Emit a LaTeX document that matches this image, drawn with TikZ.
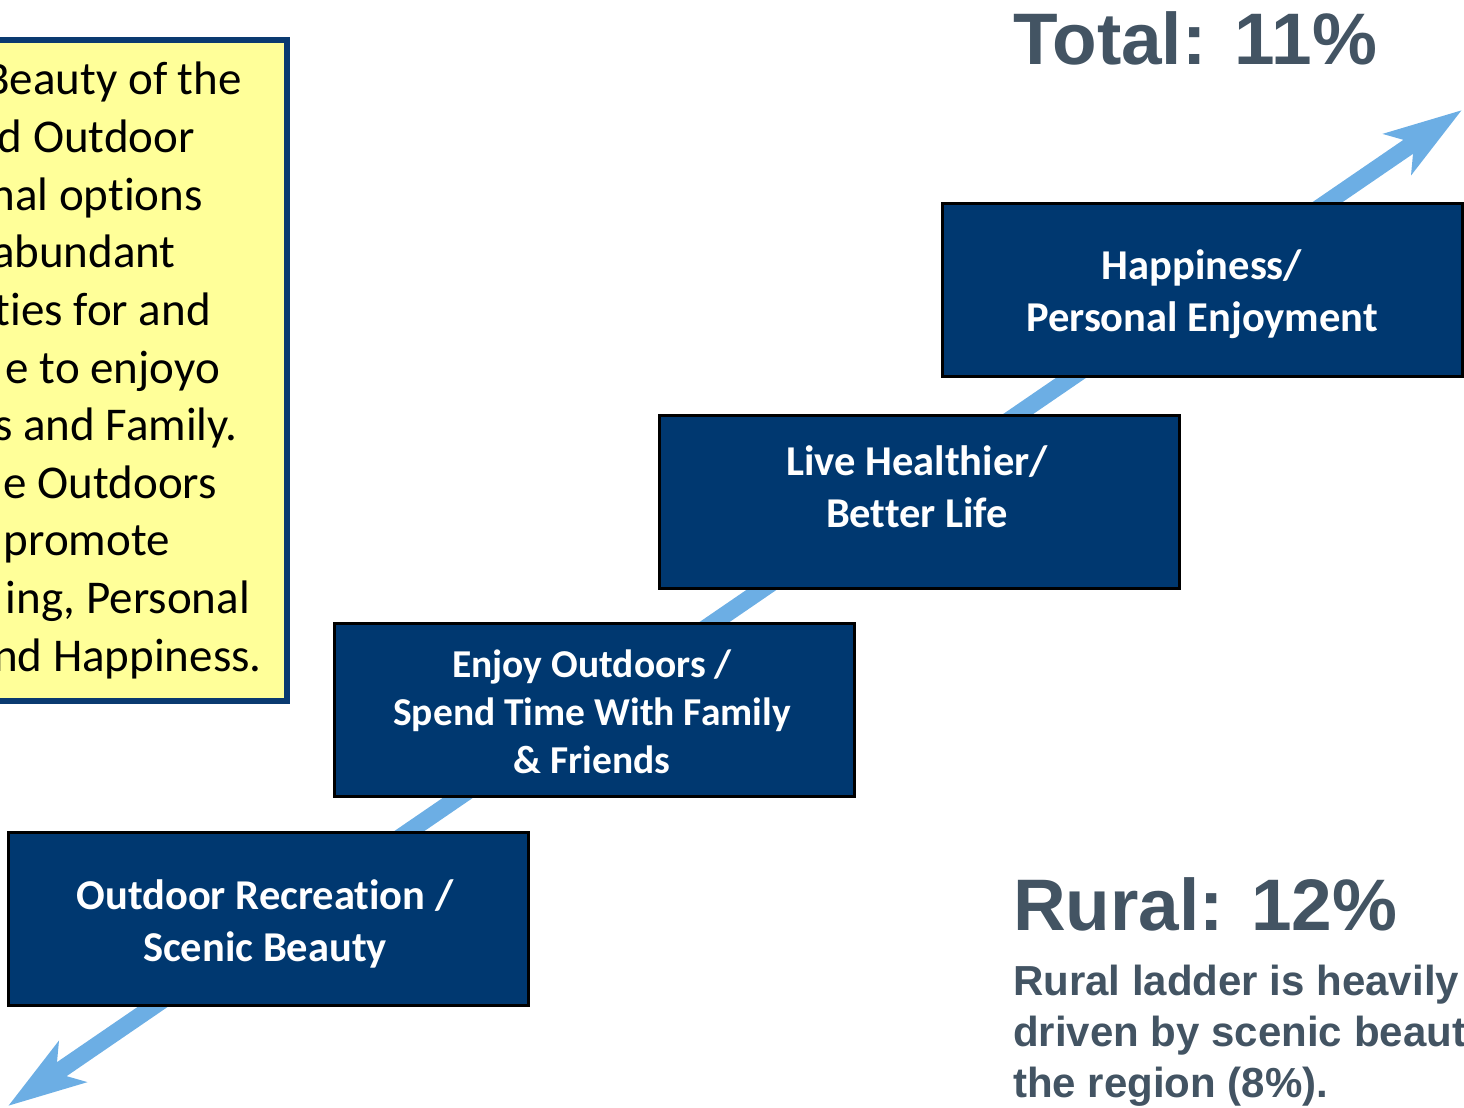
\documentclass[tikz,border=0pt]{standalone}
\usepackage{fontspec}
\setmainfont{Carlito}[Ligatures=NoCommon]
\newfontfamily\arialfont{Liberation Sans}
\usetikzlibrary{arrows.meta}
\definecolor{navy}{RGB}{0,56,112}
\definecolor{sky}{RGB}{108,174,228}
\definecolor{pale}{RGB}{255,255,153}
\definecolor{slate}{RGB}{67,84,99}
\definecolor{ybord}{RGB}{10,58,112}
\tikzset{
  navybox/.style={draw=black, line width=3pt, fill=navy,
    minimum width=520pt, minimum height=173pt, inner sep=0pt},
  boxtext/.style={text=white, align=center, inner sep=0pt},
  bigfont/.style={font=\fontsize{42.5}{52}\selectfont\bfseries},
  midfont/.style={font=\fontsize{39.5}{48}\selectfont\bfseries},
  ytext/.style={anchor=base east, inner sep=0pt, font=\fontsize{47}{57.6}\selectfont},
  tot/.style={anchor=base west, inner sep=0pt, text=slate, font=\frenchspacing\arialfont\bfseries\fontsize{73}{80}\selectfont},
  sub/.style={anchor=base west, inner sep=0pt, text=slate, font=\arialfont\bfseries\fontsize{42}{51}\selectfont},
  ybox/.style={draw=ybord, line width=6pt, fill=pale, inner sep=0pt},
  ladder/.style={draw=sky, line width=17pt,
    {Stealth[length=77pt,width=48pt,inset=19pt,sky]}-{Stealth[length=77pt,width=48pt,inset=19pt,sky]}}
}
\begin{document}
\begin{tikzpicture}[x=1pt,y=-1pt]
\useasboundingbox (0,0) rectangle (1464,1108);
\clip (0,0) rectangle (1464,1108);
% yellow box
\node[ybox, minimum width=320pt, minimum height=661pt] (yb) at (127,370.5) {};
\node[ytext] (y1) at (242,95) {Beauty of the};
\node[ytext] (y2) at (195,152.6) {d Outdoor};
\node[ytext] (y3) at (203,210.2) {nal options};
\node[ytext] (y4) at (176,267.8) {abundant};
\node[ytext] (y5) at (211,325.4) {ties for and};
\node[ytext] (y6) at (220,383) {e to enjoyo};
\node[ytext] (y7) at (238,440.6) {s and Family.};
\node[ytext] (y8) at (217,498.2) {e Outdoors};
\node[ytext] (y9) at (170,555.8) {promote};
\node[ytext] (y10) at (250,613.4) {ing, Personal};
\node[ytext] (y11) at (262,671) {nd Happiness.};
% arrow
\coordinate (lo) at (8,1106);
\coordinate (hi) at (1462,110);
\draw[ladder] (lo) -- (hi);
% boxes
\node[navybox] (b1) at (268.5,919) {};
\node[navybox] (b2) at (594.5,710) {};
\node[navybox] (b3) at (919.5,501.5) {};
\node[navybox] (b4) at (1202,289.5) {};
\node[boxtext, bigfont] (t1) at (265,924) {Outdoor Recreation /\\Scenic Beauty};
\node[boxtext, midfont] (t2) at (592,712) {Enjoy Outdoors /\\Spend Time With Family\\\& Friends};
\node[boxtext, bigfont] (t3) at (917,487) {Live Healthier/\\Better Life};
\node[boxtext, bigfont] (t4) at (1202,294.5) {Happiness/\\Personal Enjoyment};
% right texts
\node[tot] (total) at (1013,64) {Total:\kern8pt\ 11\%};
\node[tot] (rural) at (1013,930) {Rural:\kern7pt\ 12\%};
\node[sub] (s1) at (1013,995) {Rural ladder is heavily};
\node[sub] (s2) at (1013,1046) {driven by scenic beauty};
\node[sub] (s3) at (1013,1097) {the region (8\%).};
\end{tikzpicture}
\end{document}
